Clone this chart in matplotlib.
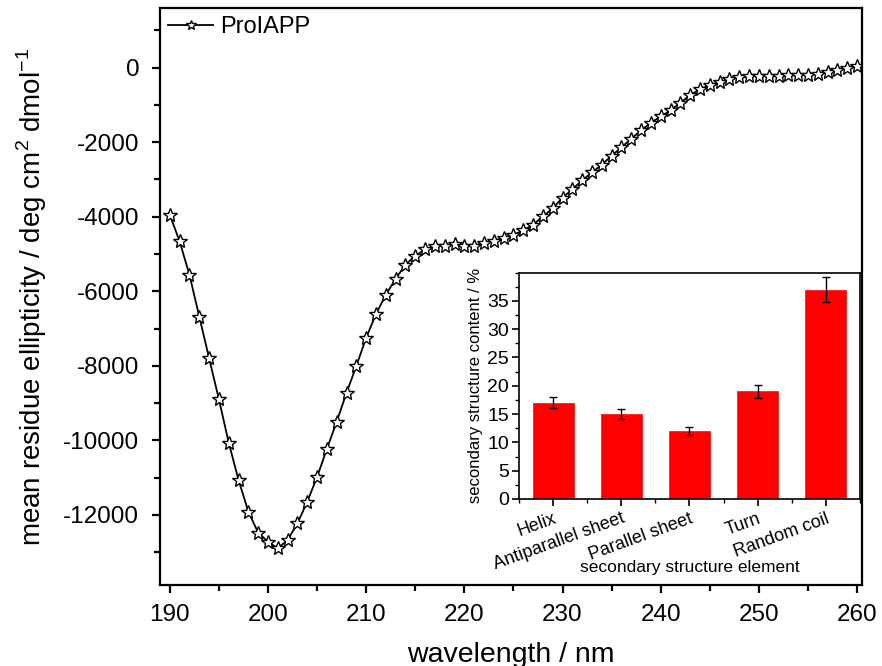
import matplotlib
matplotlib.use("Agg")
import matplotlib.pyplot as plt
from matplotlib.ticker import MultipleLocator

plt.rcParams['font.family'] = ['Liberation Sans', 'DejaVu Sans']
plt.rcParams['mathtext.fontset'] = 'custom'
plt.rcParams['mathtext.rm'] = 'Liberation Sans'
plt.rcParams['axes.unicode_minus'] = False

wavelength = list(range(190, 261))
ellipticity = [
    -3947, -4664, -5558, -6678, -7795, -8896, -10061, -11062, -11913, -12477,
    -12719, -12896, -12673, -12225, -11645, -10982, -10230, -9497, -8726, -8001,
    -7250, -6605, -6095, -5665, -5289, -5048, -4873, -4787, -4774, -4726,
    -4779, -4779, -4699, -4645, -4565, -4484, -4368, -4215, -3993, -3772,
    -3491, -3262, -3026, -2811, -2604, -2363, -2140, -1906, -1683, -1482,
    -1308, -1147, -940, -738, -577, -470, -389, -309, -255, -234,
    -215, -215, -215, -207, -207, -188, -161, -126, -72, -8,
    35,
]

categories = ["Helix", "Antiparallel sheet", "Parallel sheet", "Turn", "Random coil"]
content = [17, 15, 12, 19, 37]
content_err = [1.0, 0.9, 0.75, 1.1, 2.25]

fig = plt.figure(figsize=(8.82, 6.66), dpi=100)
ax = fig.add_axes([0.1814, 0.1216, 0.7959, 0.8664])

ax.plot(wavelength, ellipticity, color='black', lw=1.3, marker='*',
        markersize=10, markerfacecolor='white', markeredgecolor='black',
        markeredgewidth=1.0, label='ProIAPP')

ax.set_xlim(189.0, 260.5)
ax.set_ylim(-13880, 1600)
ax.xaxis.set_major_locator(MultipleLocator(10))
ax.xaxis.set_minor_locator(MultipleLocator(5))
ax.yaxis.set_major_locator(MultipleLocator(2000))
ax.yaxis.set_minor_locator(MultipleLocator(1000))
for s in ax.spines.values():
    s.set_linewidth(1.6)
ax.tick_params(which='major', direction='out', length=6, width=1.6,
               labelsize=17.5, pad=9)
ax.tick_params(which='minor', direction='out', length=4, width=1.6)
ax.tick_params(axis='x', which='major', pad=8)
ax.set_xlabel('wavelength / nm', fontsize=20.5, labelpad=11)
ax.set_ylabel(r'mean residue ellipticity / deg cm$^{2}$ dmol$^{-1}$',
              fontsize=20, labelpad=10)

leg = ax.legend(loc='upper left', frameon=False, fontsize=17,
                handlelength=1.9, handletextpad=0.3, borderaxespad=0.15,
                borderpad=0.2, markerscale=0.75)

# inset
ins = fig.add_axes([0.5884, 0.2508, 0.3866, 0.3399])
xpos = list(range(1, len(categories) + 1))
ins.bar(xpos, content, width=0.6, color='#ff0000', edgecolor='#ff2020',
        linewidth=0.6, zorder=2)
ins.errorbar(xpos, content, yerr=content_err, fmt='none', ecolor='black',
             elinewidth=1.0, capsize=3, capthick=1.0, zorder=3)
ins.set_xlim(0.5, 5.5)
ins.set_ylim(0, 40)
ins.set_xticks(xpos)
ins.set_xticklabels(categories, rotation=20, ha='right',
                    rotation_mode='anchor', fontsize=13)
ins.xaxis.set_minor_locator(MultipleLocator(0.5))
ins.yaxis.set_minor_locator(MultipleLocator(2.5))
ins.set_yticks([0, 5, 10, 15, 20, 25, 30, 35])
for s in ins.spines.values():
    s.set_linewidth(1.2)
ins.tick_params(which='major', direction='out', length=5, width=1.2,
                labelsize=14, pad=2)
ins.tick_params(axis='x', labelsize=13)
ins.tick_params(which='minor', direction='out', length=3, width=1.0)
ins.tick_params(axis='x', which='major', pad=3)
ins.set_ylabel('secondary structure content / %', fontsize=12, labelpad=3)
ins.set_xlabel('secondary structure element', fontsize=12.5)
ins.xaxis.set_label_coords(0.5, -0.27)
ins.xaxis.label.set_va('top')

fig.savefig('out.png', dpi=100)
